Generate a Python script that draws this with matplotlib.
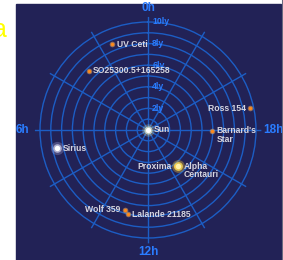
import numpy as np
import matplotlib.pyplot as plt
from matplotlib.patches import Rectangle
from matplotlib.lines import Line2D

# Nearby stars: right ascension (hours) and distance (light years)
names = ['Sun', 'Proxima', 'Alpha\nCentauri', "Barnard's\nStar", 'Wolf 359',
         'Lalande 21185', 'Sirius', 'UV Ceti', 'Ross 154', 'SO25300.5+165258']
ra_hours = [0.0, 14.5, 14.66, 17.96, 10.94, 11.1, 6.75, 1.5, 18.8, 3.0]
dist_ly = [0.0, 4.24, 4.37, 5.96, 7.7, 8.0, 8.6, 8.6, 9.69, 7.75]
kinds = ['sun', 'red', 'yellow', 'red', 'red', 'red', 'white', 'red', 'red', 'red']
sides = ['right', 'left', 'right', 'right', 'left', 'right', 'right', 'right', 'left', 'right']

ring_ly = list(range(1, 11))
ring_labels = [2, 4, 6, 8, 10]
hour_values = [0, 6, 12, 18]
hour_labels = ['0h', '6h', '12h', '18h']

W, H = 283, 260
BG = '#222256'
GRID = '#1c5dc4'
LABEL_BLUE = '#2a7cff'
TEXT = '#d6d6e0'
FONT = ['Liberation Sans', 'DejaVu Sans']

fig = plt.figure(figsize=(W / 100, H / 100), dpi=100)
fig.patch.set_facecolor('white')
fig.add_artist(Rectangle((16 / W, 0), (281 - 16) / W, 256 / H,
                         transform=fig.transFigure, color=BG, zorder=0))
fig.add_artist(Line2D([281.5 / W] * 2, [0, 1], transform=fig.transFigure,
                      color='#6a6a80', lw=0.8))
fig.text(7 / W, 1 - 37 / H, 'a', color='#ffff00', fontsize=18, ha='right',
         va='baseline', family=FONT)

# polar axes: centre at (148, 130) px, 10.8 px per light year
cx, cy, scale, rmax = 148, 130, 10.8, 10.5
R = scale * rmax
ax = fig.add_axes([(cx - R) / W, (H - cy - R) / H, 2 * R / W, 2 * R / H],
                  projection='polar')
ax.patch.set_alpha(0)
ax.set_theta_zero_location('N')
ax.set_theta_direction(1)
ax.set_ylim(0, rmax)
ax.set_rgrids(ring_ly, labels=[''] * len(ring_ly))
ax.set_thetagrids(range(0, 360, 30), labels=[''] * 12)
ax.grid(color=GRID, lw=1.0)
ax.spines['polar'].set_visible(False)
ax.tick_params(length=0)

for v in ring_labels:
    ax.annotate(f'{v}ly', xy=(0, v), xytext=(3, 0), textcoords='offset points',
                ha='left', va='center', color=LABEL_BLUE, fontsize=6.3,
                fontweight='bold', family=FONT)

for h, lab in zip(hour_values, hour_labels):
    r = 11.3 if h in (0, 12) else 11.65
    ax.text(np.radians(h * 15), r, lab, ha='center', va='center',
            color=LABEL_BLUE, fontsize=8.5, fontweight='bold', family=FONT,
            clip_on=False)

styles = {
    'sun':    [(80, '#ffffaa', 0.25), (34, '#ffffcc', 0.6), (14, '#ffffff', 1.0)],
    'white':  [(90, '#ccccff', 0.25), (38, '#eeeeff', 0.6), (15, '#ffffff', 1.0)],
    'yellow': [(85, '#ffcc33', 0.35), (40, '#ffdd55', 0.8), (15, '#fff2aa', 1.0)],
    'red':    [(16, '#ffbb66', 0.5), (6, '#ff8a1a', 1.0)],
}

theta = np.radians(np.array(ra_hours) * 15)
for name, t, d, kind, side in zip(names, theta, dist_ly, kinds, sides):
    for s, c, a in styles[kind]:
        ax.scatter([t], [d], s=s, color=c, alpha=a, lw=0, zorder=5)
    big = kind != 'red'
    dx = 4.2 if big else 3.2
    if side == 'left':
        dx = -dx
    ha = 'right' if side == 'left' else 'left'
    if '\n' in name:
        ax.annotate(name, xy=(t, d), xytext=(dx, 3.2), textcoords='offset points',
                    ha=ha, va='top', color=TEXT, fontsize=6.2, fontweight='bold',
                    family=FONT, linespacing=0.95, zorder=6)
    else:
        ax.annotate(name, xy=(t, d), xytext=(dx, 0), textcoords='offset points',
                    ha=ha, va='center', color=TEXT, fontsize=6.2,
                    fontweight='bold', family=FONT, zorder=6)

fig.savefig('out.png', dpi=100, facecolor=fig.get_facecolor())
